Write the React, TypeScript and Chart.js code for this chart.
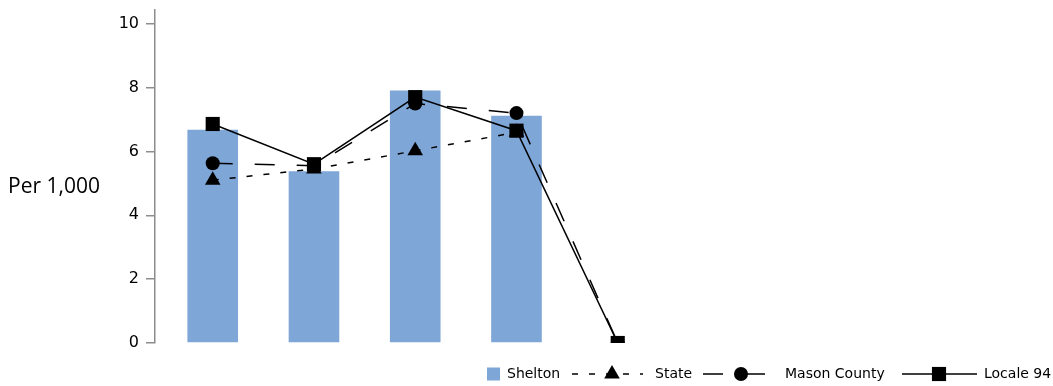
import React, { useEffect, useRef } from 'react';
import { Chart, registerables } from 'chart.js';

Chart.register(...registerables);

const CATEGORIES = ['1', '2', '3', '4', '5'];
const SHELTON: (number | null)[] = [6.68, 5.38, 7.91, 7.12, null];
const STATE: (number | null)[] = [5.1, 5.45, 6.02, 6.6, null];
const MASON: (number | null)[] = [5.63, 5.55, 7.5, 7.2, 0];
const LOCALE: (number | null)[] = [6.86, 5.6, 7.7, 6.65, 0];
const Y_TICKS = [0, 2, 4, 6, 8, 10];
const Y_TITLE = 'Per 1,000';
const SERIES_NAMES = ['Shelton', 'State', 'Mason County', 'Locale 94'];

const BAR_COLOR = '#7ea6d7';
const AXIS_COLOR = '#8c8c8c';

const toPoints = (arr: (number | null)[]) => CATEGORIES.map((_, i) => ({ x: i, y: arr[i] }));

type LegendItem = { kind: 'box' | 'line'; dash?: number[]; marker?: string; x0: number; x1: number; mx: number; tx: number };
const LEGEND_ITEMS: LegendItem[] = [
  { kind: 'box', x0: 487, x1: 500, mx: 0, tx: 507 },
  { kind: 'line', dash: [6, 11], marker: 'triangle', x0: 572, x1: 643, mx: 612, tx: 655 },
  { kind: 'line', dash: [20, 22], marker: 'circle', x0: 703, x1: 767, mx: 741, tx: 785 },
  { kind: 'line', dash: [], marker: 'rect', x0: 902, x1: 977, mx: 939, tx: 984 },
];

function drawMarker(ctx: CanvasRenderingContext2D, style: string, x: number, y: number) {
  ctx.beginPath();
  if (style === 'circle') {
    ctx.arc(x, y, 7, 0, Math.PI * 2);
  } else if (style === 'rect') {
    const s = 10 * Math.SQRT1_2;
    ctx.rect(x - s, y - s, 2 * s, 2 * s);
  } else {
    const r = 9;
    let rad = 0;
    ctx.moveTo(x + Math.sin(rad) * r, y - Math.cos(rad) * r);
    rad += (2 * Math.PI) / 3;
    ctx.lineTo(x + Math.sin(rad) * r, y - Math.cos(rad) * r);
    rad += (2 * Math.PI) / 3;
    ctx.lineTo(x + Math.sin(rad) * r, y - Math.cos(rad) * r);
    ctx.closePath();
  }
  ctx.fill();
}

const overlayPlugin = {
  id: 'overlay',
  afterDraw(chart: any) {
    const ctx: CanvasRenderingContext2D = chart.ctx;
    ctx.save();
    ctx.fillStyle = '#000';
    ctx.font = '21px "Open Sans"';
    ctx.textBaseline = 'middle';
    ctx.textAlign = 'left';
    ctx.fillText(Y_TITLE, 8, 187);

    // legend
    ctx.font = '14px "DejaVu Sans"';
    const cy = 374;
    LEGEND_ITEMS.forEach((it, i) => {
      if (it.kind === 'box') {
        ctx.fillStyle = BAR_COLOR;
        ctx.fillRect(it.x0, cy - 6.5, it.x1 - it.x0, 13);
      } else {
        ctx.strokeStyle = '#000';
        ctx.lineWidth = 1.5;
        ctx.setLineDash(it.dash || []);
        ctx.beginPath();
        ctx.moveTo(it.x0, cy);
        ctx.lineTo(it.x1, cy);
        ctx.stroke();
        ctx.setLineDash([]);
        ctx.fillStyle = '#000';
        drawMarker(ctx, it.marker || 'circle', it.mx, cy);
      }
      ctx.fillStyle = '#000';
      ctx.fillText(SERIES_NAMES[i], it.tx, cy);
    });
    ctx.restore();
  },
};

export default function App() {
  const ref = useRef<HTMLCanvasElement | null>(null);
  useEffect(() => {
    if (!ref.current) return;
    const lineCommon = {
      type: 'line' as const,
      borderColor: '#000',
      borderWidth: 1.5,
      pointBackgroundColor: '#000',
      pointBorderColor: '#000',
      pointBorderWidth: 0,
      fill: false,
      tension: 0,
    };
    const chart = new Chart(ref.current, {
      type: 'bar',
      data: {
        datasets: [
          {
            ...lineCommon,
            label: SERIES_NAMES[3],
            data: toPoints(LOCALE),
            borderDash: [],
            pointStyle: 'rect',
            pointRadius: 10,
            order: 1,
          } as any,
          {
            ...lineCommon,
            label: SERIES_NAMES[2],
            data: toPoints(MASON),
            borderDash: [20, 22],
            pointStyle: 'circle',
            pointRadius: 7,
            order: 2,
          } as any,
          {
            ...lineCommon,
            label: SERIES_NAMES[1],
            data: toPoints(STATE),
            borderDash: [6, 11],
            pointStyle: 'triangle',
            pointRadius: 9,
            order: 3,
          } as any,
          {
            type: 'bar',
            label: SERIES_NAMES[0],
            data: toPoints(SHELTON),
            backgroundColor: BAR_COLOR,
            borderWidth: 0,
            barPercentage: 0.5,
            categoryPercentage: 1,
            order: 10,
          } as any,
        ],
      },
      options: {
        animation: false,
        responsive: true,
        maintainAspectRatio: false,
        events: [],
        layout: { padding: { left: 0, right: 5, top: 0, bottom: 43 } },
        plugins: { legend: { display: false }, tooltip: { enabled: false } },
        scales: {
          x: {
            type: 'linear',
            display: false,
            offset: false,
            min: -0.57,
            max: 8.2,
            afterBuildTicks: (scale: any) => {
              scale.ticks = CATEGORIES.map((_, i) => ({ value: i }));
            },
          },
          y: {
            type: 'linear',
            min: 0,
            max: 10.43,
            afterBuildTicks: (scale: any) => {
              scale.ticks = Y_TICKS.map((v) => ({ value: v }));
            },
            afterFit: (scale: any) => {
              scale.width = 155;
              scale.paddingTop = 0;
              scale.paddingBottom = 0;
            },
            border: { display: true, color: AXIS_COLOR, width: 1.5 },
            grid: {
              display: true,
              drawOnChartArea: false,
              drawTicks: true,
              tickLength: 9,
              color: AXIS_COLOR,
              lineWidth: 1.5,
            },
            ticks: {
              padding: 7,
              color: '#000',
              font: { family: '"DejaVu Sans"', size: 16 },
            },
          },
        },
      },
      plugins: [overlayPlugin],
    });
    return () => chart.destroy();
  }, []);
  return (
    <div style={{ position: 'absolute', left: 0, top: 0, width: 1053, height: 386 }}>
      <canvas ref={ref} />
    </div>
  );
}
